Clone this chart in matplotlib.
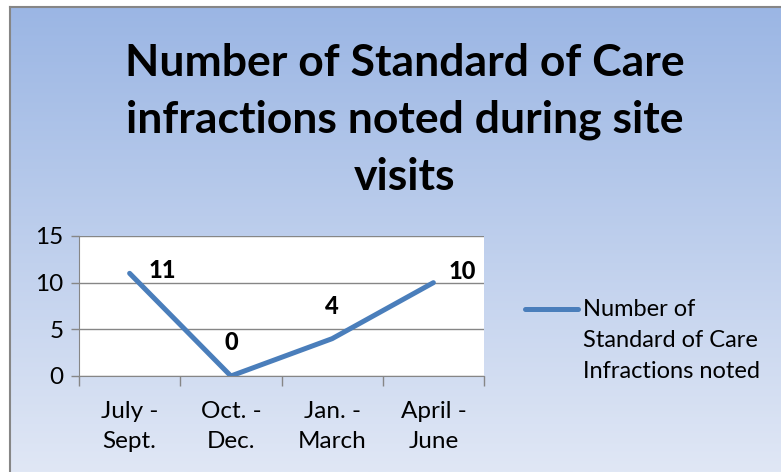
import numpy as np
import matplotlib.pyplot as plt
from matplotlib.lines import Line2D

categories = ['July -\nSept.', 'Oct. -\nDec.', 'Jan. -\nMarch', 'April -\nJune']
values = [11, 0, 4, 10]
series_name = 'Number of\nStandard of Care\nInfractions noted'
title = 'Number of Standard of Care\ninfractions noted during site\nvisits'
# label offsets in pixels (Excel put some labels right, some above)
label_offsets = [(33, 3), (0, 34), (0, 32), (29, 11)]

plt.rcParams['font.family'] = ['Lato', 'DejaVu Sans']

W, H = 781, 472
fig = plt.figure(figsize=(W / 100, H / 100), dpi=100)
fig.patch.set_facecolor('white')

# gradient background of the chart area
bg = fig.add_axes([10 / W, 0, 1 - 10 / W, 1 - 7 / H])
top = np.array([155, 182, 228]) / 255
bottom = np.array([224, 231, 245]) / 255
t = np.linspace(0, 1, 256)[:, None]
grad = top * (1 - t) + bottom * t
bg.imshow(grad[:, None, :], aspect='auto', extent=[0, 1, 0, 1])
bg.set_xticks([])
bg.set_yticks([])
for s in ['right', 'bottom']:
    bg.spines[s].set_visible(False)
for s in ['left', 'top']:
    bg.spines[s].set_color('#868686')
    bg.spines[s].set_linewidth(1.5)

fig.text(405 / W, 1 - 120 / H, title, ha='center', va='center',
         fontsize=32, fontweight='bold', linespacing=1.5)

ax = fig.add_axes([79 / W, 1 - 376 / H, (484 - 79) / W, (376 - 236) / H])
ax.set_facecolor('white')
x = np.arange(len(categories))
ax.plot(x, values, color='#4a7ebb', linewidth=3.6, solid_capstyle='round')

ax.set_xlim(-0.5, len(categories) - 0.5)
ax.set_ylim(0, 15)
ax.set_yticks([0, 5, 10, 15])
ax.yaxis.grid(True, color='#868686', linewidth=1)
ax.set_axisbelow(True)
ax.set_xticks(np.arange(len(categories) + 1) - 0.5)
ax.set_xticklabels([])
ax.set_xticks(x, minor=True)
ax.set_xticklabels(categories, minor=True, fontsize=17.5, linespacing=1.55)
ax.tick_params(axis='x', which='minor', length=0, pad=18)
ax.tick_params(axis='x', which='major', length=7, color='#868686', width=1)
ax.tick_params(axis='y', length=6, color='#868686', width=1, labelsize=17.5, pad=5)
for s in ['top', 'right']:
    ax.spines[s].set_visible(False)
for s in ['left', 'bottom']:
    ax.spines[s].set_color('#868686')

for xi, v, (dx, dy) in zip(x, values, label_offsets):
    ax.annotate(str(v), (xi, v), xytext=(dx, dy), textcoords='offset pixels',
                ha='center', va='center', fontsize=17, fontweight='black')

# legend drawn by hand so the marker sits on the first text line
fig.add_artist(Line2D([525 / W, 578 / W], [1 - 309 / H, 1 - 309 / H],
                      color='#4a7ebb', linewidth=3.6, solid_capstyle='round'))
fig.text(583 / W, 1 - 299 / H, series_name, ha='left', va='top',
         fontsize=17, linespacing=1.6, transform=fig.transFigure)

fig.savefig('out.png', dpi=100)
